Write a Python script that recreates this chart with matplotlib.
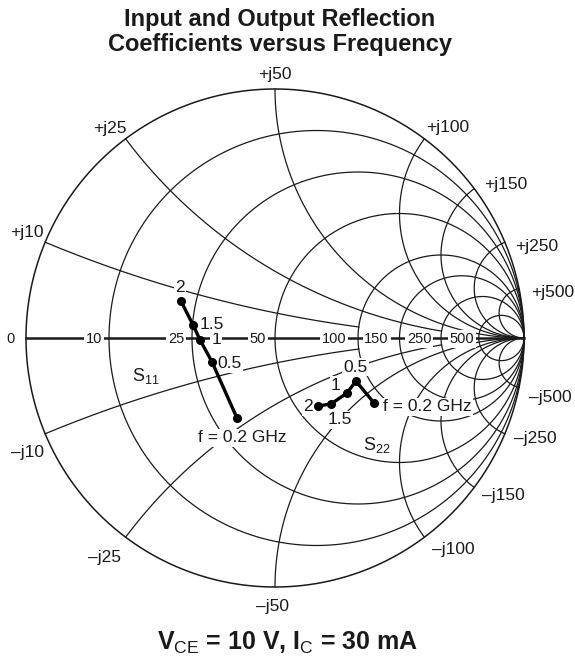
import numpy as np
import matplotlib
matplotlib.use('Agg')
import matplotlib.pyplot as plt

plt.rcParams['font.family'] = ['Liberation Sans', 'DejaVu Sans']
plt.rcParams['mathtext.fontset'] = 'custom'
plt.rcParams['mathtext.rm'] = 'Liberation Sans'
plt.rcParams['mathtext.bf'] = 'Liberation Sans:bold'

Z0 = 50.0

# Smith chart grid, in ohms
r_values = [10, 25, 50, 100, 150, 250, 500]
x_values = [10, 25, 50, 100, 150, 250, 500]
# resistance (ohms) where each reactance arc stops, None = runs to the edge
x_arc_end = [100, 250, None, None, None, None, None]

# measured reflection coefficients (real, imag)
freq = ['0.2', '0.5', '1', '1.5', '2']
s11_re = [-0.153, -0.253, -0.301, -0.329, -0.378]
s11_im = [-0.321, -0.096, -0.008, 0.052, 0.149]
s22_re = [0.398, 0.325, 0.289, 0.225, 0.173]
s22_im = [-0.261, -0.173, -0.221, -0.265, -0.273]

# label offsets in pixels
r_lab_off = [-15, -16, -17, -24, -23, -22, -17]
up_off = [(-18, 10), (-16, 10), (0, 14), (23, 11), (32, 4), (32, -4), (34, -4)]
lo_off = [(-18, -19), (-21, -20), (-2, -19), (29, -12), (29, -8), (30, -5), (31, -10)]
s11_off = [(5, -20), (17, -2), (16, 0), (19, 1), (-1, 13)]
s22_off = [(9, -4), (0, 14), (-11, 8), (9, -16), (-10, -1)]

ink = '#1a1a1a'


def gamma(z):
    return (z - 1) / (z + 1)


W, H = 575, 657
cx, cy, R = 275, 338, 249
fig = plt.figure(figsize=(W / 100, H / 100), dpi=100)
ax = fig.add_axes([0, 0, 1, 1])
ax.set_xlim(-cx / R, (W - cx) / R)
ax.set_ylim((cy - H) / R, cy / R)
ax.axis('off')

# outer circle and real axis
t = np.linspace(0, 2 * np.pi, 720)
ax.plot(np.cos(t), np.sin(t), color=ink, lw=1.1)
ax.plot([-1, 1], [0, 0], color=ink, lw=1.8)

# constant resistance circles
for r in r_values:
    t = np.linspace(-np.pi / 2 + 1e-4, np.pi / 2 - 1e-4, 1200)
    g = gamma(r / Z0 + 1j * np.tan(t))
    ax.plot(g.real, g.imag, color=ink, lw=0.9)

# constant reactance arcs
for x, rend in zip(x_values, x_arc_end):
    tmax = np.pi / 2 - 1e-4 if rend is None else np.arctan(rend / Z0)
    t = np.linspace(0, tmax, 800)
    for s in (1, -1):
        g = gamma(np.tan(t) + 1j * s * x / Z0)
        ax.plot(g.real, g.imag, color=ink, lw=0.9)

# labels on the real axis
box = dict(boxstyle='square,pad=0.12', fc='white', ec='none')
for r, dx in zip(r_values, r_lab_off):
    g = gamma(r / Z0)
    ax.annotate(str(r), (g, 0), xytext=(dx, -1), textcoords='offset pixels',
                ha='center', va='center', fontsize=10.5, color=ink, bbox=box, zorder=5)
ax.annotate('0', (-1, 0), xytext=(-16, -1), textcoords='offset pixels',
            ha='center', va='center', fontsize=10.5, color=ink)

# reactance labels round the edge
for x, uo, lo in zip(x_values, up_off, lo_off):
    gu = gamma(1j * x / Z0)
    ax.annotate('+j%d' % x, (gu.real, gu.imag), xytext=uo, textcoords='offset pixels',
                ha='center', va='center', fontsize=12.5, color=ink)
    ax.annotate('\u2013j%d' % x, (gu.real, -gu.imag), xytext=lo, textcoords='offset pixels',
                ha='center', va='center', fontsize=12.5, color=ink)

# data
ax.plot(s11_re, s11_im, '-o', color='black', lw=2.4, ms=5.5, zorder=6)
ax.plot(s22_re, s22_im, '-o', color='black', lw=2.4, ms=5.5, zorder=6)

pbox = dict(boxstyle='square,pad=0.08', fc='white', ec='none')
for i, f in enumerate(freq):
    lab = 'f = 0.2 GHz' if i == 0 else f
    ax.annotate(lab, (s11_re[i], s11_im[i]), xytext=s11_off[i], textcoords='offset pixels',
                ha='center', va='center', fontsize=12.5, color=ink, bbox=pbox, zorder=5)
    ax.annotate(lab, (s22_re[i], s22_im[i]), xytext=s22_off[i], textcoords='offset pixels',
                ha='left' if i == 0 else 'center', va='center', fontsize=12.5,
                color=ink, bbox=pbox, zorder=5)

ax.annotate(r'S$_{11}$', (s11_re[1], s11_im[1]), xytext=(-66, -14), textcoords='offset pixels',
            ha='center', va='center', fontsize=13, color=ink, bbox=pbox, zorder=5)
ax.annotate(r'S$_{22}$', (s22_re[0], s22_im[0]), xytext=(3, -42), textcoords='offset pixels',
            ha='center', va='center', fontsize=13, color=ink, bbox=pbox, zorder=5)

fig.text(280 / W, 1 - 32 / H, 'Input and Output Reflection\nCoefficients versus Frequency',
         ha='center', va='center', fontsize=17, fontweight='bold', linespacing=1.1, color=ink)
fig.text(288 / W, 1 - 643 / H, r'V$_{\mathrm{CE}}$ = 10 V, I$_{\mathrm{C}}$ = 30 mA',
         ha='center', va='center', fontsize=18, fontweight='bold', color=ink)

fig.savefig('out.png', dpi=100)
